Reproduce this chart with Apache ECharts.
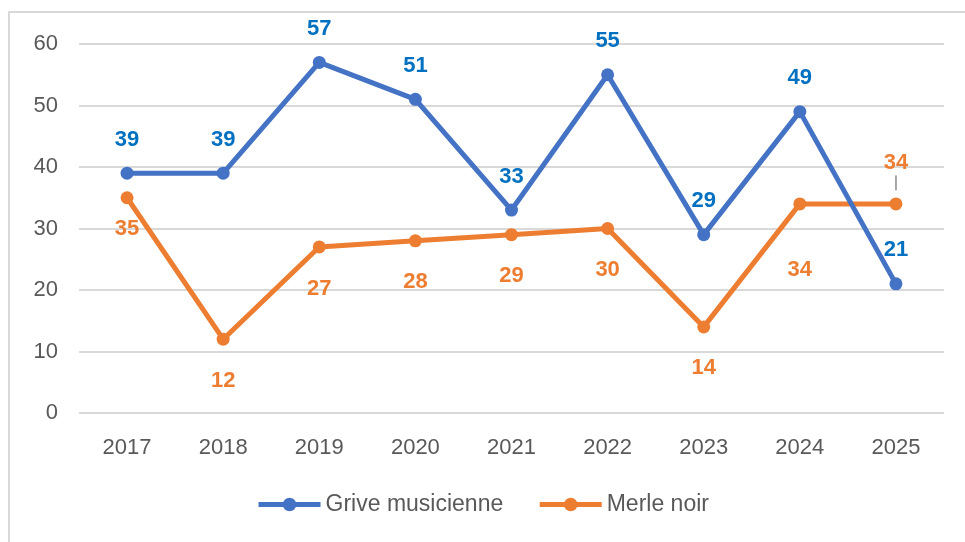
<!DOCTYPE html>
<html><head><meta charset="utf-8">
<script src="https://cdn.jsdelivr.net/npm/echarts@6/dist/echarts.min.js"></script>
<style>html,body{margin:0;padding:0;background:#fff}#c{width:965px;height:542px}</style>
</head><body><div id="c"></div>
<script>
const years = ['2017','2018','2019','2020','2021','2022','2023','2024','2025'];
const grive = [39,39,57,51,33,55,29,49,21];
const merle = [35,12,27,28,29,30,14,34,34];
const seriesNames = ['Grive musicienne','Merle noir'];

const FONT = '"Liberation Sans", Arial, sans-serif';
const BLUE = '#4472C4', ORANGE = '#ED7D31', LBLUE = '#0070C0';

const merleLabelDist = [14,24,24,24,24,24,24,49,null];
const merleData = merle.map((v,i)=>{
  if (i === merle.length-1) {
    return {value:v, label:{position:'top', distance:7,
      formatter:'{a|{c}}\n{b|}',
      rich:{a:{color:ORANGE,fontWeight:'bold',fontSize:22,fontFamily:FONT,align:'center',lineHeight:24},
            b:{width:2,height:15,backgroundColor:'#a6a6a6',align:'center'}}}};
  }
  return {value:v, label:{distance:merleLabelDist[i]}};
});

const chart = echarts.init(document.getElementById('c'));
chart.setOption({
  backgroundColor:'#fff',
  animation:false,
  graphic:[{type:'rect',shape:{x:9,y:12,width:1000,height:600},style:{fill:'none',stroke:'#d9d9d9',lineWidth:2},silent:true}],
  grid:{left:79,right:21,top:44,bottom:129,containLabel:false},
  legend:{bottom:21,left:'center',itemWidth:62,itemHeight:17,itemGap:34,
    lineStyle:{width:5},
    textStyle:{color:'#595959',fontSize:23,fontFamily:FONT},
    data:seriesNames},
  xAxis:{type:'category',data:years,boundaryGap:true,
    axisLine:{show:false},axisTick:{show:false},
    axisLabel:{color:'#595959',fontSize:22,fontFamily:FONT,margin:24}},
  yAxis:{type:'value',min:0,max:60,interval:10,
    axisLine:{show:false},axisTick:{show:false},
    splitLine:{lineStyle:{color:'#d9d9d9',width:2}},
    axisLabel:{color:'#595959',fontSize:22,fontFamily:FONT,margin:21}},
  series:[
    {name:seriesNames[0],type:'line',data:grive,color:BLUE,
     lineStyle:{width:5,color:BLUE},symbol:'circle',symbolSize:13,
     itemStyle:{color:BLUE},
     label:{show:true,position:'top',distance:16,color:LBLUE,fontWeight:'bold',fontSize:22,fontFamily:FONT},
     z:3},
    {name:seriesNames[1],type:'line',data:merleData,color:ORANGE,
     lineStyle:{width:5,color:ORANGE},symbol:'circle',symbolSize:13,
     itemStyle:{color:ORANGE},
     label:{show:true,position:'bottom',distance:24,color:ORANGE,fontWeight:'bold',fontSize:22,fontFamily:FONT},
     z:2}
  ]
});
</script></body></html>
